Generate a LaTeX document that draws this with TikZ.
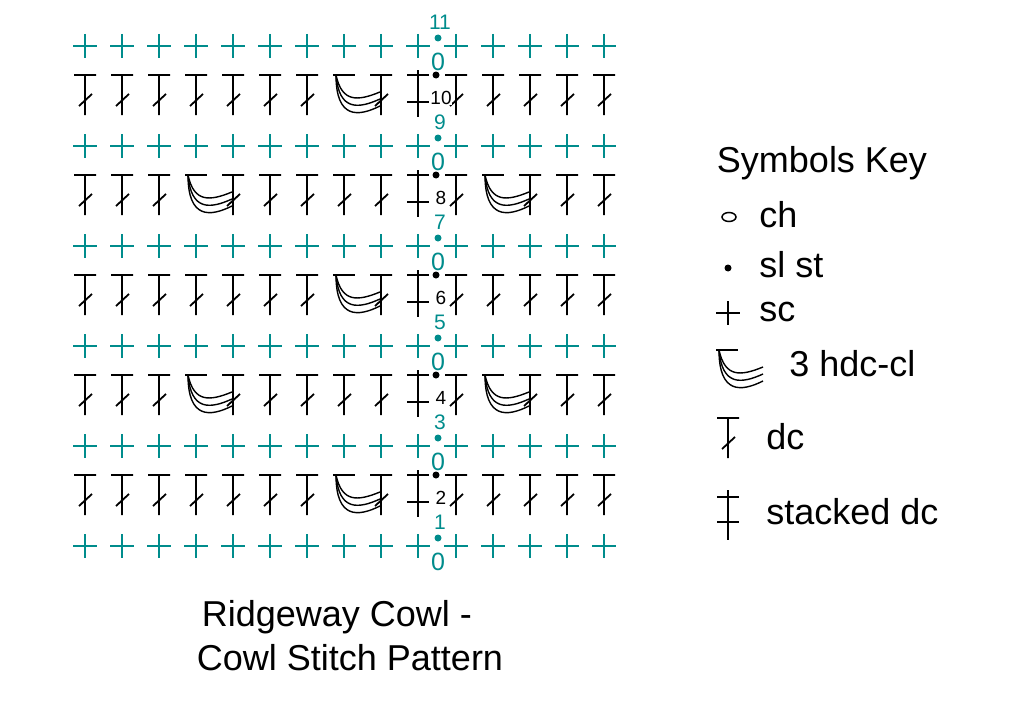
\documentclass[tikz,border=0pt]{standalone}
\usepackage{fontspec}
\setmainfont{Liberation Sans}
\definecolor{tl}{RGB}{0,140,140}
\begin{document}
\begin{tikzpicture}[x=1pt,y=-1pt,line width=2pt,
  sym/.style={line width=1.8pt},
  tsym/.style={line width=2pt,color=tl}]
\useasboundingbox (0,0) rectangle (1024,701);
% sc rows
\foreach \r in {46,146,246,346,446,546}{
  \foreach \c in {0,...,14}{
    \pgfmathsetmacro\xx{85+37*\c+(\c>9?1:0)}
    \draw[tsym] (\xx-12,\r)--(\xx+12,\r) (\xx,\r-12)--(\xx,\r+12);
  }}
\newcommand\dcsym[2]{\draw[sym] (#1-11,#2)--(#1+11,#2) (#1,#2)--(#1,#2+40) (#1-6,#2+31)--(#1+7,#2+19);}
\newcommand\clsym[2]{\draw[sym] (#1-11,#2)--(#1+11,#2);
  \draw[sym,line width=1.4pt] (#1-8,#2) .. controls (#1-2,#2+28) and (#1+14,#2+26) .. (#1+36,#2+17);
  \draw[sym,line width=1.4pt] (#1-8,#2) .. controls (#1-5,#2+36) and (#1+14,#2+34) .. (#1+36,#2+24);
  \draw[sym,line width=1.4pt] (#1-8,#2) .. controls (#1-8,#2+44) and (#1+14,#2+42) .. (#1+36,#2+31);}
\newcommand\stsym[2]{\draw[sym] (#1-11,#2)--(#1+11,#2) (#1,#2-5)--(#1,#2+42) (#1-11,#2+27)--(#1+11,#2+27);}
\foreach \r in {75,275,475}{
  \foreach \c in {0,...,6,8,10,11,12,13,14}{
    \pgfmathsetmacro\xx{85+37*\c+(\c>9?1:0)}\dcsym{\xx}{\r}}
  \clsym{344}{\r}\stsym{418}{\r}}
\foreach \r in {175,375}{
  \foreach \c in {0,1,2,4,5,6,7,8,10,12,13,14}{
    \pgfmathsetmacro\xx{85+37*\c+(\c>9?1:0)}\dcsym{\xx}{\r}}
  \clsym{196}{\r}\clsym{493}{\r}\stsym{418}{\r}}
% center column
\foreach \r/\n in {38/11,138/9,238/7,338/5,438/3,538/1}{
  \fill[tl] (438,\r) circle (3.5pt);
  \node[tl,font=\fontsize{21}{21}\selectfont] at (440,\r-16) {\n};
  \node[tl,font=\fontsize{25}{25}\selectfont] at (438,\r+24) {0};}
\foreach \r/\n in {75/10,175/8,275/6,375/4,475/2}{
  \fill (436,\r) circle (3.5pt);
  \node[font=\fontsize{19}{19}\selectfont,fill=white,inner sep=0.3pt] at (441,\r+23) {\n};}
% legend
\begin{scope}[font=\fontsize{36}{36}\selectfont]
\node at (822,163) {Symbols Key};
\draw[line width=1.5pt] (729,217) ellipse (7pt and 4.5pt);
\node[anchor=west] at (755,215) {ch};
\fill (728,268) circle (3.5pt);
\node[anchor=west] at (755,265) {sl st};
\draw[sym] (716,313)--(740,313) (728,301)--(728,325);
\node[anchor=west] at (755,312) {sc};
\clsym{727}{350}
\node[anchor=west] at (785,364) {3 hdc-cl};
\dcsym{728}{418}
\node[anchor=west] at (762,437) {dc};
\draw[sym] (717,497)--(739,497) (728,490)--(728,540) (717,522)--(739,522);
\node[anchor=west] at (762,512) {stacked dc};
\node at (337,617) {Ridgeway Cowl -};
\node at (350,658) {Cowl Stitch Pattern};
\end{scope}
\end{tikzpicture}
\end{document}
